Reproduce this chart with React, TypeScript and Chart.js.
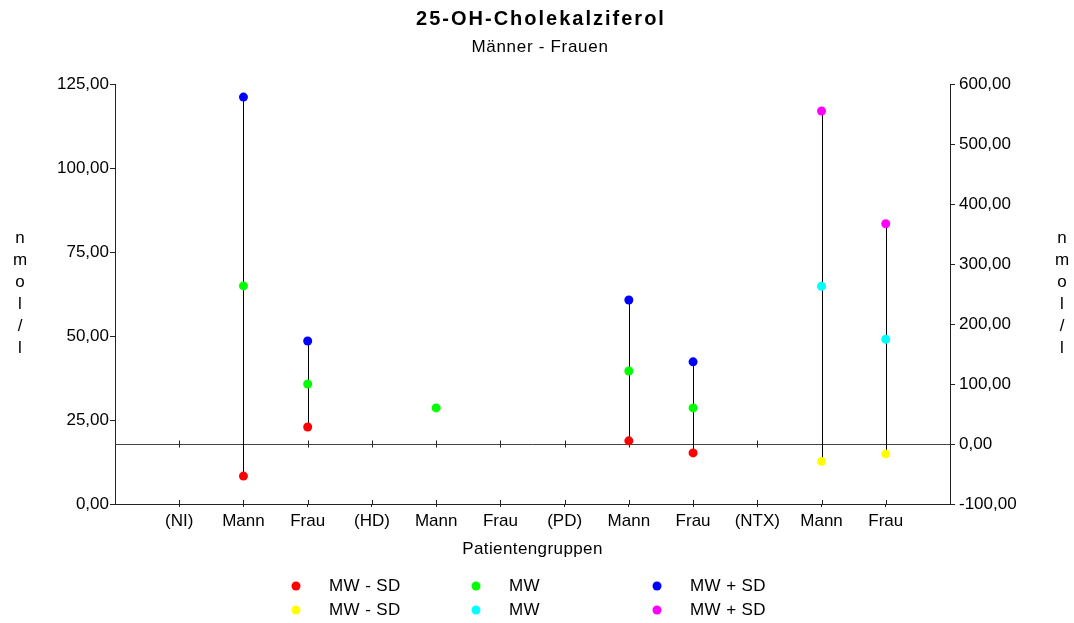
import React, { useEffect, useRef } from 'react';
import { Chart, registerables } from 'chart.js';

Chart.register(...registerables);

const TITLE = '25-OH-Cholekalziferol';
const SUBTITLE = 'Männer - Frauen';
const X_TITLE = 'Patientengruppen';
const Y_TITLE_LETTERS = ['n', 'm', 'o', 'l', '/', 'l'];

const categories = ['(NI)', 'Mann', 'Frau', '(HD)', 'Mann', 'Frau', '(PD)', 'Mann', 'Frau', '(NTX)', 'Mann', 'Frau'];

// left axis series (nmol/l)
const leftMwMinusSd: (number | null)[] = [null, 8.3, 22.9, null, null, null, null, 18.8, 15.2, null, null, null];
const leftMw: (number | null)[] = [null, 64.9, 35.7, null, 28.6, null, null, 39.6, 28.6, null, null, null];
const leftMwPlusSd: (number | null)[] = [null, 121.1, 48.5, null, null, null, null, 60.7, 42.3, null, null, null];

// right axis series (nmol/l)
const rightMwMinusSd: (number | null)[] = [null, null, null, null, null, null, null, null, null, null, -29, -16.5];
const rightMw: (number | null)[] = [null, null, null, null, null, null, null, null, null, null, 263, 174.5];
const rightMwPlusSd: (number | null)[] = [null, null, null, null, null, null, null, null, null, null, 555, 367];

const seriesLabels = ['MW - SD', 'MW', 'MW + SD', 'MW - SD', 'MW', 'MW + SD'];
const seriesColors = ['#FF0000', '#00FF00', '#0000FF', '#FFFF00', '#00FFFF', '#FF00FF'];

const leftMin = 0, leftMax = 125, leftStep = 25;
const rightMin = -100, rightMax = 600, rightStep = 100;

const FONT = "'Liberation Sans', Arial, sans-serif";
const AXIS_COLOR = '#222';

const fmt = (v: number) => v.toFixed(2).replace('.', ',');

const toPoints = (arr: (number | null)[]) =>
  arr.map((v, i) => (v === null ? null : { x: i + 1, y: v })).filter((p) => p !== null) as { x: number; y: number }[];

const decorPlugin = {
  id: 'decor',
  beforeDatasetsDraw(chart: any) {
    const { ctx, chartArea, scales } = chart;
    const x = scales.x, y = scales.y, y2 = scales.y2;
    ctx.save();
    // zero line of right axis
    const zy = Math.round(y2.getPixelForValue(0)) + 0.5;
    ctx.strokeStyle = '#444';
    ctx.lineWidth = 1;
    ctx.beginPath();
    ctx.moveTo(chartArea.left, zy);
    ctx.lineTo(chartArea.right, zy);
    ctx.stroke();
    ctx.strokeStyle = AXIS_COLOR;
    for (let i = 1; i <= categories.length; i++) {
      const px = Math.round(x.getPixelForValue(i)) + 0.5;
      ctx.beginPath();
      ctx.moveTo(px, zy - 4);
      ctx.lineTo(px, zy + 3);
      ctx.stroke();
      ctx.beginPath();
      ctx.moveTo(px, chartArea.bottom - 4);
      ctx.lineTo(px, chartArea.bottom);
      ctx.stroke();
    }
    // hi-lo lines
    const groups = [
      { scale: y, sets: [leftMwMinusSd, leftMw, leftMwPlusSd] },
      { scale: y2, sets: [rightMwMinusSd, rightMw, rightMwPlusSd] },
    ];
    ctx.strokeStyle = '#000';
    groups.forEach((g) => {
      for (let i = 0; i < categories.length; i++) {
        const vals = g.sets.map((s) => s[i]).filter((v) => v !== null) as number[];
        if (vals.length < 2) continue;
        const lo = Math.min(...vals), hi = Math.max(...vals);
        const px = Math.round(x.getPixelForValue(i + 1)) + 0.5;
        ctx.beginPath();
        ctx.moveTo(px, g.scale.getPixelForValue(lo));
        ctx.lineTo(px, g.scale.getPixelForValue(hi));
        ctx.stroke();
      }
    });
    ctx.restore();
  },
  afterDraw(chart: any) {
    const { ctx, chartArea } = chart;
    ctx.save();
    ctx.fillStyle = '#000';
    ctx.textAlign = 'center';
    ctx.textBaseline = 'middle';
    // title
    ctx.font = `bold 20px ${FONT}`;
    (ctx as any).letterSpacing = '2px';
    ctx.fillText(TITLE, 541, 19);
    ctx.font = `17px ${FONT}`;
    (ctx as any).letterSpacing = '0.7px';
    ctx.fillText(SUBTITLE, 540, 47);
    (ctx as any).letterSpacing = '0.4px';
    ctx.fillText(X_TITLE, (chartArea.left + chartArea.right) / 2, 549);
    // y titles (stacked letters)
    (ctx as any).letterSpacing = '0px';
    Y_TITLE_LETTERS.forEach((ch, i) => {
      ctx.fillText(ch, 20, 238 + i * 22);
      ctx.fillText(ch, 1062, 238 + i * 22);
    });
    // legend
    const colX = [296, 476, 657];
    const rowY = [586, 610];
    ctx.textAlign = 'left';
    (ctx as any).letterSpacing = '0.4px';
    seriesLabels.forEach((lab, i) => {
      const cx = colX[i % 3];
      const cy = rowY[Math.floor(i / 3)];
      ctx.fillStyle = seriesColors[i];
      ctx.beginPath();
      ctx.arc(cx, cy, 4.5, 0, Math.PI * 2);
      ctx.fill();
      ctx.fillStyle = '#000';
      ctx.fillText(lab, cx + 33, cy);
    });
    ctx.restore();
  },
};

export default function App() {
  const ref = useRef<HTMLCanvasElement | null>(null);
  useEffect(() => {
    if (!ref.current) return;
    const allSets = [leftMwMinusSd, leftMw, leftMwPlusSd, rightMwMinusSd, rightMw, rightMwPlusSd];
    const chart = new Chart(ref.current, {
      type: 'scatter',
      data: {
        datasets: allSets.map((arr, i) => ({
          label: seriesLabels[i],
          data: toPoints(arr),
          yAxisID: i < 3 ? 'y' : 'y2',
          backgroundColor: seriesColors[i],
          borderColor: seriesColors[i],
          pointRadius: 4.5,
          pointBorderWidth: 0,
          showLine: false,
        })),
      },
      options: {
        responsive: false,
        animation: false,
        events: [],
        layout: { padding: { top: 84, left: 0, right: 0, bottom: 0 } },
        font: { family: FONT, size: 17 },
        plugins: {
          legend: { display: false },
          title: { display: false },
          tooltip: { enabled: false },
        },
        scales: {
          x: {
            type: 'linear',
            min: 0,
            max: categories.length + 1,
            afterFit: (s: any) => { s.height = 119; },
            afterBuildTicks: (s: any) => {
              s.ticks = Array.from({ length: categories.length + 2 }, (_, i) => ({ value: i }));
            },
            ticks: {
              stepSize: 1,
              autoSkip: false,
              maxRotation: 0,
              padding: 4,
              color: '#000',
              font: { family: FONT, size: 17 },
              callback: (v: any) => {
                const i = Math.round(Number(v));
                return i >= 1 && i <= categories.length ? categories[i - 1] : '';
              },
            },
            grid: {
              drawOnChartArea: false,
              drawTicks: true,
              tickLength: 3,
              color: (c: any) => {
                const v = c.tick ? c.tick.value : 0;
                return v >= 1 && v <= categories.length ? AXIS_COLOR : 'rgba(0,0,0,0)';
              },
            },
            border: { display: true, color: AXIS_COLOR },
          },
          y: {
            type: 'linear',
            position: 'left',
            min: leftMin,
            max: leftMax,
            afterFit: (s: any) => { s.width = 115; },
            ticks: {
              stepSize: leftStep,
              padding: 1,
              color: '#000',
              font: { family: FONT, size: 17 },
              callback: (v: any) => fmt(Number(v)),
            },
            grid: { drawOnChartArea: false, drawTicks: true, tickLength: 5, color: AXIS_COLOR },
            border: { display: true, color: AXIS_COLOR },
          },
          y2: {
            type: 'linear',
            position: 'right',
            min: rightMin,
            max: rightMax,
            afterFit: (s: any) => { s.width = 124; },
            ticks: {
              stepSize: rightStep,
              padding: 4,
              color: '#000',
              font: { family: FONT, size: 17 },
              callback: (v: any) => fmt(Number(v)),
            },
            grid: { drawOnChartArea: false, drawTicks: true, tickLength: 5, color: AXIS_COLOR },
            border: { display: true, color: AXIS_COLOR },
          },
        },
      } as any,
      plugins: [decorPlugin],
    });
    return () => chart.destroy();
  }, []);
  return (
    <div style={{ position: 'fixed', left: 0, top: 0, width: 1074, height: 623, background: '#fff' }}>
      <canvas ref={ref} width={1074} height={623} style={{ display: 'block' }} />
    </div>
  );
}
